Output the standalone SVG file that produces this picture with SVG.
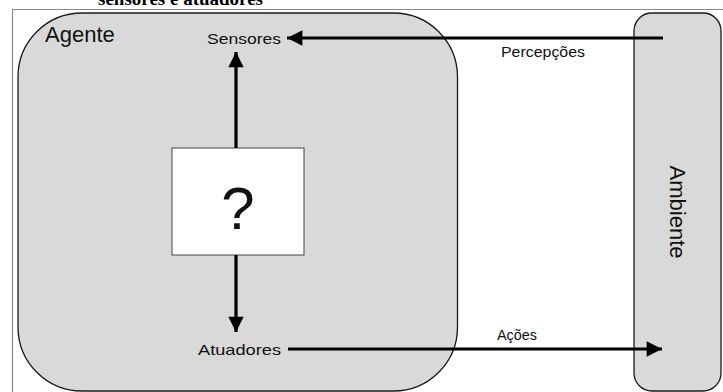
<svg xmlns="http://www.w3.org/2000/svg" width="723" height="392" viewBox="0 0 723 392">
  <style>
    .shape { fill: #d9d9d9; stroke: #1a1a1a; stroke-width: 1.3; }
    .lbl { font-family: "Liberation Sans", Arial, sans-serif; fill: #111; }
    .conn { stroke: #000; stroke-width: 3.2; fill: none; }
  </style>
  <defs>
    <marker id="head" viewBox="0 0 10 10" refX="10" refY="5" markerWidth="5.2" markerHeight="4.8" orient="auto" markerUnits="strokeWidth">
      <path d="M0,0 L10,5 L0,10 Z" fill="#000"/>
    </marker>
  </defs>
  <rect width="723" height="392" fill="#fff"/>

  <!-- caption, clipped by the top edge -->
  <text x="98" y="5" font-family="'Liberation Serif', 'Times New Roman', serif" font-weight="bold" font-size="19" fill="#000">sensores e atuadores</text>

  <!-- outer frame -->
  <path d="M12.5,392 V9.5 H723" fill="none" stroke="#8a8a8a" stroke-width="1.2"/>

  <g id="agente">
    <rect class="shape" x="18" y="13" width="439.5" height="378" rx="64" ry="64"/>
    <text class="lbl" x="45" y="42" font-size="22">Agente</text>
  </g>

  <g id="ambiente">
    <rect class="shape" x="634" y="13" width="87" height="378" rx="18" ry="18"/>
    <text class="lbl" transform="translate(670,212) rotate(90)" text-anchor="middle" font-size="22">Ambiente</text>
  </g>

  <g id="caixa">
    <rect x="172" y="148" width="132" height="107" fill="#fff" stroke="#444" stroke-width="1"/>
    <text class="lbl" x="238" y="229" text-anchor="middle" font-size="60">?</text>
  </g>

  <g id="sensores">
    <text class="lbl" x="207" y="44" font-size="15" textLength="74" lengthAdjust="spacingAndGlyphs">Sensores</text>
  </g>

  <g id="atuadores">
    <text class="lbl" x="198" y="355" font-size="15" textLength="83" lengthAdjust="spacingAndGlyphs">Atuadores</text>
  </g>

  <g id="conectores">
    <line class="conn" x1="663" y1="38" x2="287" y2="38" marker-end="url(#head)"/>
    <line class="conn" x1="288" y1="349" x2="662" y2="349" marker-end="url(#head)"/>
    <line class="conn" x1="236" y1="148" x2="236" y2="52" marker-end="url(#head)"/>
    <line class="conn" x1="236" y1="255" x2="236" y2="332" marker-end="url(#head)"/>
    <text class="lbl" x="501" y="57" font-size="15" textLength="84" lengthAdjust="spacingAndGlyphs">Percepções</text>
    <text class="lbl" x="497" y="340" font-size="15" textLength="40" lengthAdjust="spacingAndGlyphs">Ações</text>
  </g>
</svg>
